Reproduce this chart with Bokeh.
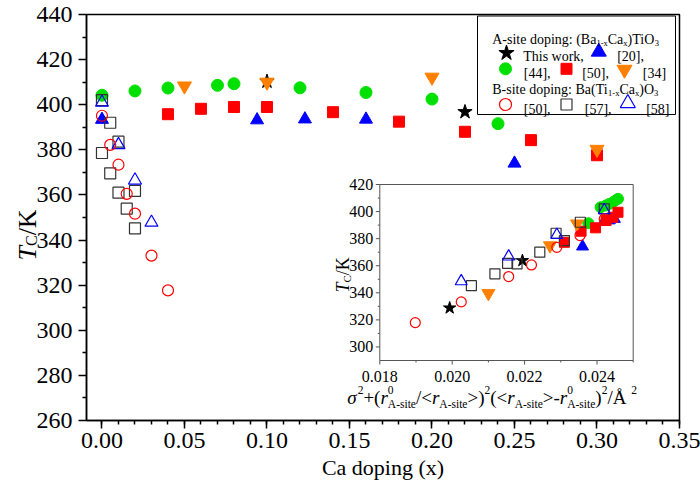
import math
from bokeh.plotting import figure
from bokeh.layouts import row
from bokeh.models import Range1d, FixedTicker, PrintfTickFormatter, ColumnDataSource
from bokeh.core.properties import value, field
from bokeh.embed import file_html
from bokeh.resources import INLINE

# ---------------- data ----------------
X_TICKS = [0.00, 0.05, 0.10, 0.15, 0.20, 0.25, 0.30, 0.35]
Y_TICKS = [260, 280, 300, 320, 340, 360, 380, 400, 420, 440]
INSET_X_TICKS = [0.018, 0.020, 0.022, 0.024]
INSET_Y_TICKS = [300, 320, 340, 360, 380, 400, 420]

# main panel: Ca doping x  vs  Tc (K)
this_x = [0.10, 0.22]
this_T = [410.3, 396.8]
ref20_x = [0.0, 0.094, 0.123, 0.16, 0.25]
ref20_T = [393.4, 393.2, 393.6, 393.5, 374.0]
ref44_x = [0.0, 0.02, 0.04, 0.07, 0.08, 0.12, 0.16, 0.20, 0.24]
ref44_T = [404.2, 406.1, 407.4, 408.6, 409.3, 407.5, 405.4, 402.5, 391.6]
ref50A_x = [0.04, 0.06, 0.08, 0.10, 0.14, 0.18, 0.22, 0.26, 0.30]
ref50A_T = [395.8, 398.2, 399.0, 399.0, 396.7, 392.5, 388.0, 384.3, 377.6]
ref34_x = [0.05, 0.10, 0.20, 0.30]
ref34_T = [408.3, 410.0, 412.2, 380.2]
ref50B_x = [0.0, 0.005, 0.01, 0.015, 0.02, 0.03, 0.04]
ref50B_T = [395.1, 382.2, 373.4, 360.5, 351.7, 333.1, 317.7]
ref57_x = [0.0, 0.005, 0.01, 0.0, 0.005, 0.01, 0.02, 0.015, 0.02]
ref57_T = [402.0, 392.0, 383.6, 378.6, 369.6, 361.0, 361.8, 353.9, 345.2]
ref58_x = [0.0, 0.01, 0.02, 0.03]
ref58_T = [401.0, 382.2, 366.5, 347.8]

# inset: size-variance parameter (A^2)  vs  Tc (K)
in_this_s = [0.01993, 0.02194]
in_this_T = [328.8, 363.8]
in20_s = [0.0236, 0.0242, 0.02434, 0.02448]
in20_T = [374.2, 393.0, 393.5, 394.6]
in44_s = [0.02376, 0.0241, 0.02425, 0.02434, 0.02448, 0.02458]
in44_T = [391.4, 403.2, 404.5, 405.7, 407.7, 409.4]
in50A_s = [0.0231, 0.02356, 0.02396, 0.02425, 0.02444, 0.02458]
in50A_T = [377.3, 385.5, 388.0, 393.4, 395.8, 399.5]
in34_s = [0.0210, 0.0227, 0.02345]
in34_T = [339.6, 374.9, 391.0]
in50B_s = [0.01898, 0.02025, 0.02156, 0.02219, 0.02289, 0.02353, 0.0242]
in50B_T = [318.0, 333.3, 352.0, 360.6, 373.6, 382.3, 394.6]
in57_s = [0.02053, 0.02118, 0.02153, 0.02179, 0.02242, 0.02287, 0.0231, 0.02354, 0.0242]
in57_T = [345.3, 354.0, 361.8, 361.3, 370.0, 384.0, 378.6, 392.1, 402.0]
in58_s = [0.02025, 0.02156, 0.02289, 0.0242]
in58_T = [348.5, 366.8, 382.8, 401.0]

# ---------------- layout / style ----------------
FONT = "Liberation Serif"
GREEN, RED, BLUE, ORANGE, GREY = "#00e000", "#ff0000", "#0000ff", "#ff8000", "#333333"

TOTAL_W, H = 700, 500
LW = 78                       # left strip: y tick labels + y-axis title
FL, FR, FT, FB = 86, 679, 14, 420   # main frame, page px
X0, X1 = -0.00938, 0.35
Y0, Y1 = 260.0, 440.0

IL, IR, IT, IB = 379.3, 632.7, 184.0, 360.0      # inset frame, page px
IX0, IX1, IY0, IY1 = 0.018, 0.025, 290.0, 420.0  # inset limits

def DX(px):
    return X0 + (px - FL) / (FR - FL) * (X1 - X0)

def DY(py):
    return Y1 - (py - FT) / (FB - FT) * (Y1 - Y0)

ux = (IX1 - IX0) / (IR - IL)
uy = (IY1 - IY0) / (IB - IT)
ix_start = IX0 - (IL - FL) * ux
ix_end = IX1 + (FR - IR) * ux
iy_start = IY0 - (FB - IB) * uy
iy_end = IY1 + (IT - FT) * uy

TIMES = {' ': 250, '!': 333, '(': 333, ')': 333, '+': 564, ',': 250, '-': 333, '.': 250,
         '/': 278, ':': 278, '<': 564, '>': 564, '[': 333, ']': 333,
         'A': 722, 'B': 667, 'C': 667, 'K': 722, 'O': 722, 'T': 611, 'W': 944,
         'a': 444, 'c': 444, 'd': 500, 'e': 444, 'g': 500, 'h': 500, 'i': 278, 'k': 500,
         'n': 500, 'o': 500, 'p': 500, 'r': 333, 's': 389, 't': 278, 'w': 722, 'x': 500,
         'Å': 722, 'σ': 550}
for _d in "0123456789":
    TIMES[_d] = 500
ITAL = {'T': 556, 'r': 389, 'σ': 550}

def tw(s, fs, ital=False):
    return sum((ITAL.get(c, TIMES.get(c, 500)) if ital else TIMES.get(c, 500)) for c in s) * fs / 1000.0

def rich(pieces, x, y, fs, small, sub_dy, sup_dy, rotated=False):
    rows, pos = [], 0.0
    for txt, kind in pieces:
        if kind in ("n", "i"):
            f, off = fs, 0.0
        elif kind == "sub":
            f, off = small, sub_dy
        else:
            f, off = small, -sup_dy
        style = "italic" if kind == "i" else "normal"
        if rotated:
            rows.append((x + off, y - pos, txt, f, style, math.pi / 2))
        else:
            rows.append((x + pos, y + off, txt, f, style, 0.0))
        if kind != "sup0":
            pos += tw(txt, f, kind == "i")
    return rows

p = figure(width=TOTAL_W - LW, height=H, output_backend="svg", toolbar_location=None,
           x_range=Range1d(X0, X1), y_range=Range1d(Y0, Y1),
           min_border_left=FL - LW, min_border_right=TOTAL_W - FR,
           min_border_top=FT, min_border_bottom=H - FB,
           background_fill_color="white", border_fill_color="white")
p.frame_align = False
p.extra_x_ranges = {"ix": Range1d(ix_start, ix_end)}
p.extra_y_ranges = {"iy": Range1d(iy_start, iy_end)}
p.xgrid.visible = False
p.ygrid.visible = False
p.outline_line_color = "black"
p.outline_line_width = 1.5
p.outline_line_alpha = 1.0

x_minor = [round(i * 0.01, 2) for i in range(0, 36)]
y_minor = list(range(270, 440, 20))
p.xaxis.ticker = FixedTicker(ticks=X_TICKS, minor_ticks=x_minor)
p.yaxis.ticker = FixedTicker(ticks=Y_TICKS, minor_ticks=y_minor)
p.xaxis.formatter = PrintfTickFormatter(format="%.2f")
for ax in (p.xaxis[0], p.yaxis[0]):
    ax.axis_line_width = 1.5
    ax.axis_line_color = "black"
    ax.major_tick_line_width = 1.5
    ax.minor_tick_line_width = 1.5
    ax.major_tick_line_color = "black"
    ax.minor_tick_line_color = "black"
    ax.major_tick_out = 8
    ax.major_tick_in = 0
    ax.minor_tick_out = 4
    ax.minor_tick_in = 0
    ax.major_label_text_font = FONT
    ax.major_label_text_font_size = "24px"
    ax.major_label_text_color = "black"
p.xaxis.major_label_standoff = 4
# y tick labels are drawn in the left strip (same scale), so hide them here
p.yaxis.major_label_text_font_size = "0px"
p.yaxis.major_label_text_alpha = 0
p.yaxis.major_label_standoff = 0
p.xaxis.axis_label = "Ca doping (x)"
p.xaxis.axis_label_text_font = FONT
p.xaxis.axis_label_text_font_size = "22px"
p.xaxis.axis_label_text_font_style = "normal"
p.xaxis.axis_label_text_color = "black"
p.xaxis.axis_label_standoff = 4

# ---------------- inset frame & axes ----------------
IK = dict(x_range_name="ix", y_range_name="iy")
p.quad(left=[IX0], right=[IX1], bottom=[IY0], top=[IY1], fill_color="white",
       line_color="#555555", line_width=1, **IK)
iy_minor = list(range(310, 420, 20))
ix_minor = [0.019, 0.021, 0.023, 0.025]
p.segment(x0=[IX0] * len(INSET_Y_TICKS), y0=INSET_Y_TICKS,
          x1=[IX0 - 4 * ux] * len(INSET_Y_TICKS), y1=INSET_Y_TICKS, line_color="#555555", line_width=1, **IK)
p.segment(x0=[IX0] * len(iy_minor), y0=iy_minor,
          x1=[IX0 - 2 * ux] * len(iy_minor), y1=iy_minor, line_color="#555555", line_width=1, **IK)
p.segment(x0=INSET_X_TICKS, y0=[IY0] * len(INSET_X_TICKS),
          x1=INSET_X_TICKS, y1=[IY0 - 4 * uy] * len(INSET_X_TICKS), line_color="#555555", line_width=1, **IK)
p.segment(x0=ix_minor, y0=[IY0] * len(ix_minor),
          x1=ix_minor, y1=[IY0 - 2 * uy] * len(ix_minor), line_color="#555555", line_width=1, **IK)
p.text(x=[IX0 - 6.6 * ux] * len(INSET_Y_TICKS), y=INSET_Y_TICKS, text=[str(t) for t in INSET_Y_TICKS],
       text_font=value(FONT), text_font_size="16px", text_align="right", text_baseline="middle",
       text_color="black", **IK)
p.text(x=INSET_X_TICKS, y=[IY0 - 16 * uy] * len(INSET_X_TICKS), text=["%.3f" % t for t in INSET_X_TICKS],
       text_font=value(FONT), text_font_size="16px", text_align="center", text_baseline="alphabetic",
       text_color="black", **IK)

# ---------------- inset data ----------------
p.scatter(in_this_s, in_this_T, marker="star", size=13, fill_color="black", line_color="black", **IK)
p.scatter(in20_s, in20_T, marker="triangle", size=12, fill_color=BLUE, line_color=BLUE, **IK)
p.scatter(in44_s, in44_T, marker="circle", size=11, fill_color=GREEN, line_color=GREEN, **IK)
p.scatter(in50A_s, in50A_T, marker="square", size=10, fill_color=RED, line_color=RED, **IK)
p.scatter(in34_s, in34_T, marker="inverted_triangle", size=13, fill_color=ORANGE, line_color=ORANGE, **IK)
p.scatter(in57_s, in57_T, marker="square", size=10, fill_color=None, line_color=GREY, line_width=1.2, **IK)
p.scatter(in58_s, in58_T, marker="triangle", size=12, fill_color=None, line_color=BLUE, line_width=1.2, **IK)
p.scatter(in50B_s, in50B_T, marker="circle", size=10, fill_color=None, line_color=RED, line_width=1.2, **IK)

# ---------------- main data ----------------
p.scatter(this_x, this_T, marker="star", size=15, fill_color="black", line_color="black")
p.scatter(ref20_x, ref20_T, marker="triangle", size=13, fill_color=BLUE, line_color=BLUE)
p.scatter(ref44_x, ref44_T, marker="circle", size=12, fill_color=GREEN, line_color=GREEN)
p.scatter(ref50A_x, ref50A_T, marker="square", size=11, fill_color=RED, line_color=RED)
p.scatter(ref34_x, ref34_T, marker="inverted_triangle", size=14, fill_color=ORANGE, line_color=ORANGE)
p.scatter(ref57_x, ref57_T, marker="square", size=11, fill_color=None, line_color=GREY, line_width=1.2)
p.scatter(ref58_x, ref58_T, marker="triangle", size=13, fill_color=None, line_color=BLUE, line_width=1.2)
p.scatter(ref50B_x, ref50B_T, marker="circle", size=11, fill_color=None, line_color=RED, line_width=1.2)

# ---------------- legend (drawn by hand) ----------------
p.quad(left=[DX(477)], right=[DX(675)], top=[DY(FT + 1.5)], bottom=[DY(114)],
       fill_color="white", line_color="black", line_width=1)
leg = [("star", 506, 52.5, 16, "black", "black"),
       ("triangle", 598.3, 51.3, 15, BLUE, BLUE),
       ("circle", 505, 68.3, 12, GREEN, GREEN),
       ("square", 566, 68.3, 11, RED, RED),
       ("inverted_triangle", 624, 69.1, 15, ORANGE, ORANGE),
       ("circle", 505, 104.0, 12, None, RED),
       ("square", 566, 104.0, 11, None, GREY),
       ("triangle", 627.3, 102.7, 15, None, BLUE)]
for mk, lx, ly, sz, fc, lc in leg:
    p.scatter([DX(lx)], [DY(ly)], marker=mk, size=sz, fill_color=fc, line_color=lc,
              line_width=1.2 if fc is None else 1)

rows = []
LS, LSS = 14, 8.5
rows += rich([("A-site doping: (Ba", "n"), ("1-x", "sub"), ("Ca", "n"), ("x", "sub"),
              (")TiO", "n"), ("3", "sub")], 491.7, 38.5, LS, LSS, 3.5, 5)
rows += rich([("This work,", "n")], 522.7, 56.3, LS, LSS, 3.5, 5)
rows += rich([("[20],", "n")], 616.7, 56.3, LS, LSS, 3.5, 5)
rows += rich([("[44],", "n")], 523.3, 73.3, LS, LSS, 3.5, 5)
rows += rich([("[50],", "n")], 581.7, 73.3, LS, LSS, 3.5, 5)
rows += rich([("[34]", "n")], 642.3, 73.3, LS, LSS, 3.5, 5)
rows += rich([("B-site doping: Ba(Ti", "n"), ("1-x", "sub"), ("Ca", "n"), ("x", "sub"),
              (")O", "n"), ("3", "sub")], 491.7, 89.3, LS, LSS, 3.5, 5)
rows += rich([("[50],", "n")], 523.3, 108.7, LS, LSS, 3.5, 5)
rows += rich([("[57],", "n")], 584.3, 108.7, LS, LSS, 3.5, 5)
rows += rich([("[58]", "n")], 645.7, 108.7, LS, LSS, 3.5, 5)

# inset axis titles
rows += rich([("σ", "i"), ("2", "sup"), ("+(", "n"), ("r", "i"), ("0", "sup0"), ("A-site", "sub"),
              ("/<", "n"), ("r", "i"), ("A-site", "sub"), (">)", "n"), ("2", "sup"),
              ("(<", "n"), ("r", "i"), ("A-site", "sub"), (">-", "n"), ("r", "i"), ("0", "sup0"),
              ("A-site", "sub"), (")", "n"), ("2", "sup"), (" /Å", "n"), ("2", "sup")],
             346.7, 397.0, 19, 11.5, 6, 8)
rows += rich([("T", "i"), ("C", "sub"), (" /K", "n")], 342.5, 292.0, 18, 11, 4, 6, rotated=True)

src = ColumnDataSource(dict(
    x=[DX(r[0]) for r in rows], y=[DY(r[1]) for r in rows], text=[r[2] for r in rows],
    fs=["%gpx" % r[3] for r in rows], style=[r[4] for r in rows], angle=[r[5] for r in rows]))
p.text(x="x", y="y", text="text", angle="angle", source=src, text_font=value(FONT),
       text_font_size=field("fs"), text_font_style=field("style"),
       text_align="left", text_baseline="alphabetic", text_color="black")

# ---------------- left strip: y tick labels + y-axis title T_C /K ----------------
ky = (Y1 - Y0) / (FB - FT)            # K per pixel, same as the main frame
ly_top = Y1 + FT * ky
ly_bot = Y0 - (H - FB) * ky
lab = figure(width=LW, height=H, output_backend="svg", toolbar_location=None,
             x_range=Range1d(0, LW), y_range=Range1d(ly_bot, ly_top), x_axis_type=None, y_axis_type=None,
             min_border=0, outline_line_color=None,
             background_fill_color="white", border_fill_color="white")
lab.frame_align = False
lab.xgrid.visible = False
lab.ygrid.visible = False
lab.text(x=[LW - 6] * len(Y_TICKS), y=Y_TICKS, text=[str(t) for t in Y_TICKS],
         text_font=value(FONT), text_font_size="24px", text_align="right", text_baseline="middle",
         text_color="black")
yrows = rich([("T", "i"), ("C", "sub"), (" /K", "n")], 27.0, 260.0, 26, 16, 4, 8, rotated=True)
lsrc = ColumnDataSource(dict(
    x=[r[0] for r in yrows], y=[ly_top - r[1] * ky for r in yrows], text=[r[2] for r in yrows],
    fs=["%gpx" % r[3] for r in yrows], style=[r[4] for r in yrows], angle=[r[5] for r in yrows]))
lab.text(x="x", y="y", text="text", angle="angle", source=lsrc, text_font=value(FONT),
         text_font_size=field("fs"), text_font_style=field("style"),
         text_align="left", text_baseline="alphabetic", text_color="black")

layout = row(lab, p, spacing=0)
open("out.html", "w").write(file_html(layout, INLINE))
